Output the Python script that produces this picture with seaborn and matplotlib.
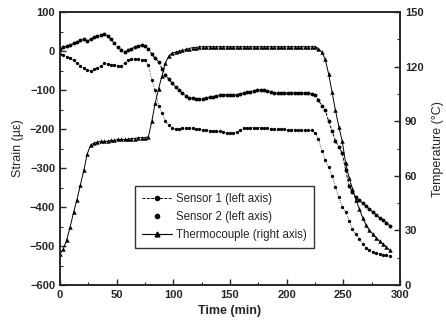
import numpy as np
import pandas as pd
import matplotlib
matplotlib.use("Agg")
import matplotlib.pyplot as plt
from matplotlib.lines import Line2D
from matplotlib.ticker import MultipleLocator
import seaborn as sns

# time in minutes (sampled every 3 min)
time_min = list(range(0, 292, 3))

sensor1 = [5, 10, 12, 15, 20, 23, 28, 30, 26, 30, 35, 38, 42, 43, 38, 30,
           20, 10, 4, -2, 3, 6, 10, 13, 15, 12, 6, -8, -18, -27, -45, -60,
           -72, -82, -92, -100, -108, -115, -120, -121, -123, -123, -122, -120, -118, -117,
           -115, -113, -112, -112, -112, -112, -112, -110, -108, -106, -104, -102, -100, -100,
           -101, -103, -106, -108, -108, -108, -108, -108, -108, -108, -108, -108, -108, -108,
           -109, -112, -126, -140, -151, -180, -205, -230, -245, -262, -305, -345, -362, -375,
           -383, -390, -398, -405, -413, -420, -428, -434, -440, -448]

sensor2 = [-8, -10, -14, -18, -24, -31, -37, -44, -48, -50, -47, -44, -38, -31, -33, -35,
           -35, -37, -39, -30, -22, -20, -20, -21, -23, -24, -35, -75, -100, -140, -160, -178,
           -190, -197, -200, -199, -197, -196, -196, -197, -199, -201, -202, -203, -204, -204,
           -205, -206, -208, -210, -210, -210, -208, -203, -198, -197, -197, -196, -196, -196,
           -197, -198, -199, -200, -200, -200, -201, -202, -202, -202, -203, -203, -203, -203,
           -203, -210, -225, -255, -280, -297, -320, -349, -375, -400, -412, -435, -456, -470,
           -482, -494, -504, -510, -515, -518, -521, -523, -524, -525]

thermocouple = [17, 20, 25, 32, 40, 47, 55, 63, 72, 77, 78, 78.5, 79, 79, 79, 79.5,
                79.5, 80, 80, 80, 80, 80.5, 80.5, 81, 81, 81, 81.5, 90, 100, 108, 115, 122,
                126, 127.5, 128, 128.5, 129, 129.5, 130, 130.5, 130.5, 131, 131, 131, 131, 131,
                131, 131, 131, 131, 131, 131, 131, 131, 131, 131, 131, 131, 131, 131,
                131, 131, 131, 131, 131, 131, 131, 131, 131, 131, 131, 131, 131, 131,
                131, 131, 130, 128, 124, 116, 106, 96, 87, 79, 67, 59, 53, 47,
                42, 37, 33, 30, 28, 26, 24, 22.5, 21, 19]

df = pd.DataFrame({"time": time_min, "s1": sensor1, "s2": sensor2, "tc": thermocouple})

sns.set_style("ticks")
plt.rcParams["font.family"] = ["Liberation Sans", "DejaVu Sans"]
plt.rcParams["xtick.direction"] = "in"
plt.rcParams["ytick.direction"] = "in"

fig = plt.figure(figsize=(4.46, 3.28), dpi=100)
ax = fig.add_axes([0.1345, 0.131, 0.7625, 0.832])
ax2 = ax.twinx()

sns.lineplot(data=df, x="time", y="s1", ax=ax, color="black", lw=0.7,
             linestyle=(0, (3, 1.5)), marker="o", markersize=2.8, markeredgewidth=0)
sns.lineplot(data=df, x="time", y="s2", ax=ax, color="black", lw=0.4,
             linestyle=(0, (2, 2)), marker="o", markersize=2.4, markeredgewidth=0)
sns.lineplot(data=df, x="time", y="tc", ax=ax2, color="black", lw=0.7,
             marker="^", markersize=3.2, markeredgewidth=0)

ax.set_xlim(0, 300)
ax.set_ylim(-600, 100)
ax2.set_ylim(0, 150)
ax.xaxis.set_major_locator(MultipleLocator(50))
ax.xaxis.set_minor_locator(MultipleLocator(25))
ax.yaxis.set_major_locator(MultipleLocator(100))
ax.yaxis.set_minor_locator(MultipleLocator(50))
ax2.yaxis.set_major_locator(MultipleLocator(30))
ax2.yaxis.set_minor_locator(MultipleLocator(15))

for a in (ax, ax2):
    a.tick_params(which="major", length=4, width=1, labelsize=8)
    a.tick_params(which="minor", length=2, width=0.8)
    for lab in a.get_xticklabels() + a.get_yticklabels():
        lab.set_fontweight("bold")
    for s in a.spines.values():
        s.set_linewidth(1.2)
        s.set_visible(True)

ax.set_xlabel("Time (min)", fontsize=9, fontweight="bold")
ax.set_ylabel("Strain (\u00b5\u03b5)", fontsize=9)
ax2.set_ylabel("Temperature (\u00b0C)", fontsize=9, labelpad=6)

handles = [
    Line2D([], [], color="black", lw=0.7, linestyle=(0, (3, 1.5)), marker="o", markersize=3),
    Line2D([], [], color="black", lw=0, marker="o", markersize=3),
    Line2D([], [], color="black", lw=0.8, marker="^", markersize=3.5),
]
labels = ["Sensor 1 (left axis)", "Sensor 2 (left axis)", "Thermocouple (right axis)"]
leg = ax.legend(handles, labels, loc="lower left", bbox_to_anchor=(0.22, 0.135),
                fontsize=8.3, frameon=True, fancybox=False, edgecolor="black",
                handlelength=2.6, handletextpad=0.4, borderpad=0.6, labelspacing=0.55,
                borderaxespad=0)
leg.get_frame().set_linewidth(1.0)

fig.savefig("out.png", dpi=100)
